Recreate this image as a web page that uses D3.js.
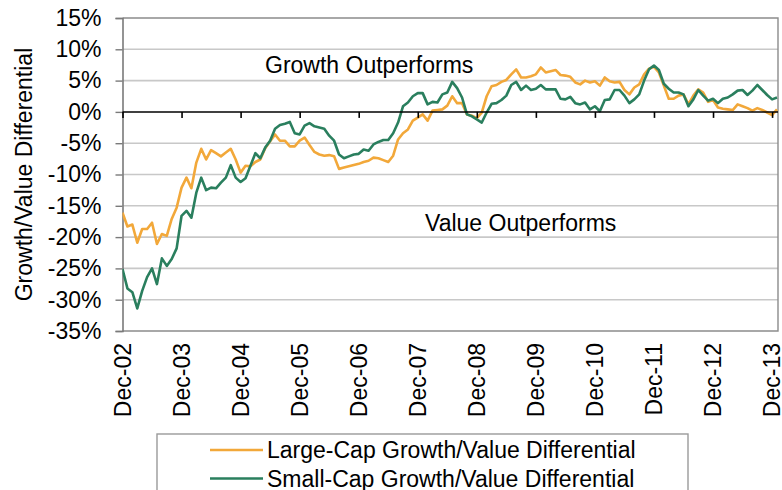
<!DOCTYPE html>
<html>
<head>
<meta charset="utf-8">
<script src="https://cdn.jsdelivr.net/npm/d3@7"></script>
<style>
  html, body { margin: 0; padding: 0; background: #fff; }
  svg { display: block; font-family: "Liberation Sans", Arial, Helvetica, sans-serif; }
</style>
</head>
<body>
<svg id="chart" width="782" height="490"></svg>
<script>
// ---- data (monthly, Dec-02 = month 0) ----
const tickLabels = ["Dec-02","Dec-03","Dec-04","Dec-05","Dec-06","Dec-07","Dec-08","Dec-09","Dec-10","Dec-11","Dec-12","Dec-13"];
const yTicks = [15, 10, 5, 0, -5, -10, -15, -20, -25, -30, -35];
const seriesNames = ["Large-Cap Growth/Value Differential", "Small-Cap Growth/Value Differential"];
const largeCap = [
  -16.1,-18.3,-18.0,-20.9,-18.7,-18.7,-17.7,-21.1,-19.5,-19.8,-17.1,-15.3,
  -12.1,-10.5,-12.2,-8.1,-5.9,-7.6,-6.1,-6.6,-7.1,-6.5,-5.9,-7.6,
  -9.7,-8.6,-8.7,-8.0,-7.6,-5.8,-4.7,-3.6,-4.6,-4.6,-5.5,-5.5,
  -4.6,-4.1,-5.3,-6.4,-6.8,-7.0,-6.9,-7.1,-9.1,-8.9,-8.7,-8.5,
  -8.3,-8.0,-7.8,-7.3,-7.4,-7.7,-8.0,-7.0,-4.4,-3.4,-2.8,-1.4,
  -0.9,-0.4,-1.4,0.2,0.3,0.4,1.0,2.5,1.4,1.4,-0.4,-0.6,
  -1.0,-0.1,2.5,4.1,4.3,4.8,5.1,6.0,6.8,5.5,5.5,5.7,
  6.0,7.1,6.3,6.5,6.7,5.9,5.8,5.6,4.7,4.4,5.0,4.7,
  4.9,4.2,5.5,4.9,4.7,4.8,3.5,2.8,3.9,4.4,6.0,6.9,
  7.2,6.3,4.2,2.1,2.1,2.6,2.8,1.2,2.6,3.6,3.1,1.6,
  1.9,0.7,0.5,0.4,0.3,1.2,0.9,0.6,0.2,0.6,0.3,-0.1,
  -0.5,0.4
];
const smallCap = [
  -25.1,-28.2,-28.8,-31.4,-28.6,-26.4,-25.0,-27.5,-23.4,-24.6,-23.5,-21.8,
  -16.6,-15.8,-16.9,-12.9,-10.5,-12.5,-12.1,-12.2,-11.3,-10.5,-8.5,-10.5,
  -11.2,-10.6,-8.6,-6.6,-7.4,-5.7,-4.6,-2.7,-2.1,-1.9,-1.6,-3.4,
  -3.6,-2.2,-1.8,-2.3,-2.5,-2.7,-3.8,-4.6,-6.8,-7.4,-7.1,-6.8,
  -6.7,-6.0,-6.2,-5.2,-4.8,-4.5,-4.5,-3.4,-1.7,0.9,1.5,2.5,
  3.0,3.0,1.2,1.6,1.5,2.8,3.1,4.8,3.8,2.3,-0.4,-0.7,
  -1.2,-1.7,-0.1,1.3,1.4,1.9,2.6,4.3,4.8,3.5,4.2,3.5,
  3.7,4.3,3.6,3.6,3.6,2.1,2.0,2.4,1.4,1.2,1.5,0.4,
  0.9,0.1,1.9,2.0,3.5,3.5,2.6,1.4,2.0,2.8,5.0,6.8,
  7.4,6.7,4.5,3.7,3.1,3.1,2.8,0.9,2.0,3.5,2.6,1.8,
  2.1,1.4,2.1,2.3,2.8,3.4,3.5,2.7,3.4,4.3,3.5,2.7,
  2.0,2.3
];
const colors = ["#F2A83A", "#2A7F5E"];

// ---- layout ----
const svg = d3.select("#chart");
const plot = { left: 122.5, right: 778, top: 18, bottom: 331 };
const FONT = 23;

const x = d3.scaleLinear().domain([0, 133]).range([plot.left, 777]);
const y = d3.scaleLinear().domain([-35, 15]).range([plot.bottom, plot.top]);

// gridlines
svg.append("g").selectAll("line")
  .data(yTicks.filter(v => v !== 0 && v !== 15 && v !== -35))
  .join("line")
  .attr("x1", plot.left).attr("x2", plot.right)
  .attr("y1", d => y(d)).attr("y2", d => y(d))
  .attr("stroke", "#c8c8c8").attr("stroke-width", 1.6);

// plot frame (top, right, bottom)
svg.append("path")
  .attr("d", `M${plot.left},${y(15)}H${plot.right}V${y(-35)}H${plot.left}`)
  .attr("fill", "none").attr("stroke", "#8c8c8c").attr("stroke-width", 1.4);

// left axis with ticks
const yAxis = d3.axisLeft(y).tickValues(yTicks).tickSize(7).tickFormat(d => d + "%");
const gy = svg.append("g").attr("transform", `translate(${plot.left},0)`).call(yAxis);
gy.select(".domain").attr("stroke", "#7a7a7a").attr("stroke-width", 1.6);
gy.selectAll(".tick line").attr("stroke", "#7a7a7a").attr("stroke-width", 1.4);
gy.selectAll(".tick text")
  .attr("x", -21).attr("fill", "#000")
  .style("font-size", FONT + "px")
  .style("font-family", "'Liberation Sans', Arial, sans-serif");

// clip for series
svg.append("clipPath").attr("id", "clip")
  .append("rect")
  .attr("x", plot.left).attr("y", plot.top)
  .attr("width", plot.right - plot.left).attr("height", plot.bottom - plot.top);

const line = d3.line().x((d, i) => x(i)).y(d => y(d));
const gLines = svg.append("g").attr("clip-path", "url(#clip)");
[largeCap, smallCap].forEach((s, k) => {
  gLines.append("path")
    .datum(s)
    .attr("d", line)
    .attr("fill", "none")
    .attr("stroke", colors[k])
    .attr("stroke-width", 2.6)
    .attr("stroke-linejoin", "round");
});

// zero line with ticks (category axis)
const tickMonths = tickLabels.map((_, i) => i * 12);
const xAxis = d3.axisBottom(x).tickValues(tickMonths).tickSize(6).tickFormat("");
const gx = svg.append("g").attr("transform", `translate(0,${y(0)})`).call(xAxis);
gx.select(".domain").attr("d", `M${plot.left},0H${plot.right}`).attr("stroke", "#000").attr("stroke-width", 1.5);
gx.selectAll(".tick line").attr("stroke", "#000").attr("stroke-width", 1.6);

// x labels (rotated) below plot
svg.append("g").selectAll("text")
  .data(tickLabels)
  .join("text")
  .attr("transform", (d, i) => `translate(${x(tickMonths[i])},${plot.bottom + 12}) rotate(-90)`)
  .attr("text-anchor", "end")
  .attr("dy", "0.35em")
  .style("font-size", FONT + "px")
  .attr("fill", "#000")
  .text(d => d);

// y title
svg.append("text")
  .attr("transform", `translate(32,${(plot.top + plot.bottom) / 2}) rotate(-90)`)
  .attr("text-anchor", "middle")
  .style("font-size", FONT + "px")
  .attr("fill", "#000")
  .text("Growth/Value Differential");

// annotations
svg.append("text").attr("x", 265).attr("y", 73)
  .style("font-size", FONT + "px").attr("fill", "#000").text("Growth Outperforms");
svg.append("text").attr("x", 425).attr("y", 231)
  .style("font-size", FONT + "px").attr("fill", "#000").text("Value Outperforms");

// legend
const lg = svg.append("g");
lg.append("rect")
  .attr("x", 157).attr("y", 434).attr("width", 531).attr("height", 80)
  .attr("fill", "#fff").attr("stroke", "#9a9a9a").attr("stroke-width", 1.4);
seriesNames.forEach((name, k) => {
  const cy = 450 + k * 28.5;
  lg.append("line").attr("x1", 210).attr("x2", 263).attr("y1", cy).attr("y2", cy)
    .attr("stroke", colors[k]).attr("stroke-width", 2.6);
  lg.append("text").attr("x", 267).attr("y", cy + 8)
    .style("font-size", FONT + "px").attr("fill", "#000").text(name);
});
</script>
</body>
</html>
